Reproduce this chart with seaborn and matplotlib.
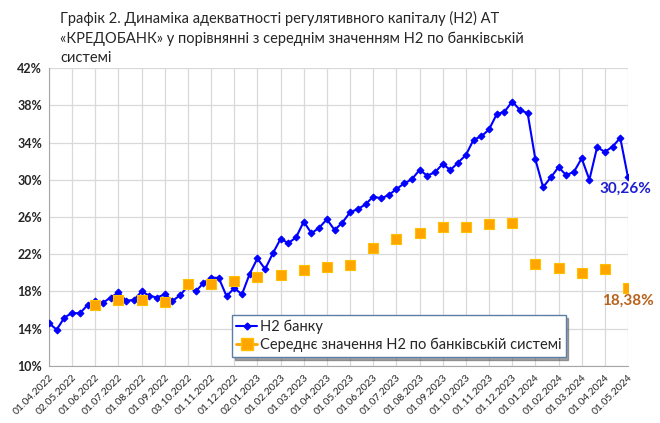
import numpy as np
import matplotlib
matplotlib.use('Agg')
import matplotlib.pyplot as plt
import seaborn as sns
from matplotlib.lines import Line2D

# Monthly axis labels (reporting dates)
dates = ['01.04.2022', '02.05.2022', '01.06.2022', '01.07.2022', '01.08.2022',
         '01.09.2022', '03.10.2022', '01.11.2022', '01.12.2022', '02.01.2023',
         '01.02.2023', '01.03.2023', '01.04.2023', '01.05.2023', '01.06.2023',
         '01.07.2023', '01.08.2023', '01.09.2023', '01.10.2023', '01.11.2023',
         '01.12.2023', '01.01.2024', '01.02.2024', '01.03.2024', '01.04.2024',
         '01.05.2024']

# Н2 of the bank, three readings per month (%)
h2_bank = [14.6, 13.9, 15.2, 15.7, 15.65, 16.55, 17.0, 16.8, 17.35, 17.9,
           17.0, 17.1, 18.0, 17.55, 17.35, 17.7, 17.0, 17.6, 18.6, 18.0,
           18.9, 19.5, 19.45, 17.5, 18.35, 17.7, 19.9, 21.55, 20.4, 22.1,
           23.65, 23.2, 23.8, 25.5, 24.25, 24.85, 25.75, 24.6, 25.4, 26.5,
           26.85, 27.35, 28.2, 28.0, 28.35, 29.0, 29.6, 30.05, 31.05, 30.45,
           30.8, 31.7, 31.05, 31.85, 32.65, 34.3, 34.65, 35.4, 37.05, 37.3,
           38.4, 37.5, 37.15, 32.2, 29.2, 30.25, 31.35, 30.5, 30.85, 32.3,
           30.0, 33.5, 33.0, 33.55, 34.5, 30.26]

# average Н2 of the banking system, monthly from 01.06.2022 (%)
avg_dates = dates[2:]
h2_system = [16.6, 17.1, 17.1, 16.9, 18.8, 18.8, 19.1, 19.6, 19.8, 20.3,
             20.65, 20.85, 22.7, 23.65, 24.25, 24.9, 24.95, 25.25, 25.4, 21.0,
             20.5, 19.95, 20.4, 18.38]

blue = '#0000ff'
orange = '#ffa500'

sns.set_style('white')
plt.rcParams['font.family'] = ['Lato', 'DejaVu Sans']

x_bank = np.arange(len(h2_bank)) / 3
x_sys = np.array([dates.index(d) for d in avg_dates])

fig = plt.figure(figsize=(6.6, 4.23), dpi=100)
ax = fig.add_axes([0.0742, 0.1348, 0.8773, 0.7044])

sns.lineplot(x=x_bank, y=h2_bank, ax=ax, color=blue, lw=1.5, marker='D',
             markersize=3.5, markeredgecolor=blue, zorder=3)
sns.scatterplot(x=x_sys, y=h2_system, ax=ax, color=orange, marker='s', s=55,
                edgecolor='#ffc000', linewidth=0.8, zorder=4)

ax.set_xlim(0, len(dates) - 1)
ax.set_ylim(10, 42)
ax.set_yticks(np.arange(10, 43, 4))
ax.set_yticklabels([f'{v}%' for v in range(10, 43, 4)], fontsize=9,
                   fontweight='bold')
ax.set_xticks(range(len(dates)))
ax.set_xticklabels(dates, rotation=45, ha='right', rotation_mode='anchor',
                   fontsize=7.5)
ax.grid(True, color='#d9d9d9', lw=0.9)
ax.set_axisbelow(True)
for s in ['top', 'right']:
    ax.spines[s].set_visible(False)
for s in ['left', 'bottom']:
    ax.spines[s].set_color('#a6a6a6')
ax.tick_params(axis='both', length=3, color='#a6a6a6', pad=2)

# end-point labels
ax.annotate(f'{h2_bank[-1]:.2f}%'.replace('.', ','), (x_bank[-1], h2_bank[-1]),
            xytext=(-2, -3), textcoords='offset points', ha='center', va='top',
            color='#1f1fd0', fontsize=11, fontweight='bold')
ax.annotate(f'{h2_system[-1]:.2f}%'.replace('.', ','), (x_sys[-1], h2_system[-1]),
            xytext=(0, -4), textcoords='offset points', ha='center', va='top',
            color='#b8621b', fontsize=11, fontweight='bold')

handles = [Line2D([], [], color=blue, marker='D', markersize=3.5, lw=1.5),
           Line2D([], [], color=orange, marker='s', markersize=8, lw=2,
                  markeredgecolor='#ffc000')]
leg = ax.legend(handles, ['Н2 банку', 'Середнє значення Н2 по банківській системі'],
                loc='upper left', bbox_to_anchor=(0.316, 0.171), fontsize=10.5,
                frameon=True, fancybox=False, shadow=True, handlelength=1.4,
                handletextpad=0.2, borderpad=0.3, labelspacing=0.3,
                borderaxespad=0)
leg.get_frame().set_edgecolor('#5b7ea6')
leg.get_frame().set_linewidth(1.0)

fig.text(0.091, 0.975,
         'Графік 2. Динаміка адекватності регулятивного капіталу (Н2) АТ\n'
         '«КРЕДОБАНК» у порівнянні з середнім значенням Н2 по банківській\n'
         'системі', ha='left', va='top', fontsize=10.5, linespacing=1.5)

fig.savefig('out.png', dpi=100)
